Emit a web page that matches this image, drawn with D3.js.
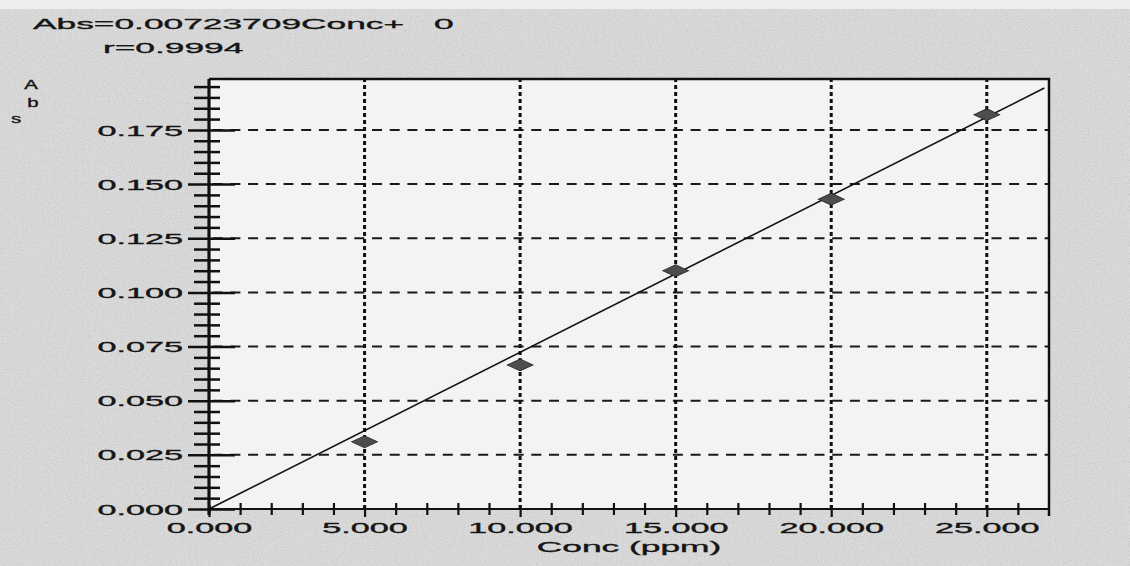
<!DOCTYPE html>
<html>
<head>
<meta charset="utf-8">
<script src="https://cdn.jsdelivr.net/npm/d3@7"></script>
<style>
  html, body { margin: 0; padding: 0; background: #d5d5d5; }
  svg { display: block; }
  text { font-family: "Liberation Sans", Arial, sans-serif; fill: #151515; stroke: #151515; stroke-width: 0.35; }
</style>
</head>
<body>
<script>
// calibration data
var conc = [5, 10, 15, 20, 25];
var absVals = [0.031, 0.0665, 0.110, 0.143, 0.182];

var xTicks = [0, 5, 10, 15, 20, 25];
var xTickLabels = ["0.000", "5.000", "10.000", "15.000", "20.000", "25.000"];
var yTicks = [0, 0.025, 0.05, 0.075, 0.1, 0.125, 0.15, 0.175];
var yTickLabels = ["0.000", "0.025", "0.050", "0.075", "0.100", "0.125", "0.150", "0.175"];

var slope = 0.00723709, intercept = 0;
var fitRange = [0, 26.85];
var equation = "Abs=0.00723709Conc+", eqConst = "0", rText = "r=0.9994";
var xTitle = "Conc (ppm)", yTitle = ["A", "b", "s"];

var WIDTH = 1130, HEIGHT = 566;
var SX = 2.28; // printout font is very wide
// (window.top is read-only, so no "top" here)
var plotL = 209, plotR = 1049, plotT = 79, plotB = 509;

var svg = d3.select("body").append("svg")
    .attr("width", WIDTH)
    .attr("height", HEIGHT);

// paper grain
var defs = svg.append("defs");
var grain = defs.append("filter").attr("id", "grain")
    .attr("x", 0).attr("y", 0).attr("width", "100%").attr("height", "100%");
grain.append("feTurbulence").attr("type", "fractalNoise")
    .attr("baseFrequency", 0.85).attr("numOctaves", 2).attr("seed", 3).attr("result", "n");
grain.append("feColorMatrix").attr("in", "n").attr("type", "matrix")
    .attr("values", "0 0 0 0 0.4  0 0 0 0 0.4  0 0 0 0 0.4  0 0 0 -1.8 1.0")
    .attr("result", "dots");
grain.append("feComposite").attr("in", "dots").attr("in2", "SourceGraphic").attr("operator", "in");

svg.append("rect").attr("width", WIDTH).attr("height", HEIGHT).attr("fill", "#dadada");
svg.append("rect").attr("width", WIDTH).attr("height", HEIGHT).attr("fill", "#dadada")
    .attr("filter", "url(#grain)").attr("opacity", 0.5);
svg.append("rect").attr("width", WIDTH).attr("height", 9).attr("fill", "#ededed");

var x = d3.scaleLinear().domain([0, 27]).range([plotL, plotR]);
var y = d3.scaleLinear().domain([0, 0.1985]).range([plotB, plotT]);

// plot area
svg.append("rect")
    .attr("x", plotL).attr("y", plotT)
    .attr("width", plotR - plotL).attr("height", plotB - plotT)
    .attr("fill", "#f3f3f3");

// grid
svg.append("g").selectAll("line")
  .data(yTicks.slice(1))
  .join("line")
    .attr("x1", plotL).attr("x2", plotR)
    .attr("y1", function(d){ return y(d); }).attr("y2", function(d){ return y(d); })
    .attr("stroke", "#1a1a1a").attr("stroke-width", 2)
    .attr("stroke-dasharray", "10,7.7").attr("stroke-dashoffset", 14);

svg.append("g").selectAll("line")
  .data(xTicks.slice(1))
  .join("line")
    .attr("x1", function(d){ return x(d); }).attr("x2", function(d){ return x(d); })
    .attr("y1", plotB).attr("y2", plotT)
    .attr("stroke", "#111").attr("stroke-width", 3)
    .attr("stroke-dasharray", "4,3");

// top + right border
svg.append("path")
    .attr("d", "M" + plotL + "," + plotT + "H" + plotR + "V" + (plotB + 7))
    .attr("fill", "none").attr("stroke", "#111").attr("stroke-width", 2.5);

// fit line
var fit = d3.line()
    .x(function(d){ return x(d); })
    .y(function(d){ return y(slope * d + intercept); });
svg.append("path")
    .datum(fitRange)
    .attr("d", fit)
    .attr("fill", "none").attr("stroke", "#111").attr("stroke-width", 1.6);

// points (flattened diamonds)
var sym = d3.symbol().type(d3.symbolSquare).size(338);
svg.append("g").selectAll("path")
  .data(conc)
  .join("path")
    .attr("d", sym)
    .attr("transform", function(d, i){
      return "translate(" + x(d) + "," + y(absVals[i]) + ") scale(1,0.46) rotate(45)";
    })
    .attr("fill", "#4d4d4d").attr("stroke", "#222").attr("stroke-width", 1.2);

// y axis
var yMinor = d3.range(0, 0.196, 0.005).filter(function(v){
  return Math.abs(v / 0.025 - Math.round(v / 0.025)) > 1e-6;
});
var yMinorAxis = svg.append("g")
    .attr("transform", "translate(" + plotL + ",0)")
    .call(d3.axisLeft(y).tickValues(yMinor).tickSize(0).tickFormat(""));
yMinorAxis.select(".domain").remove();
yMinorAxis.selectAll(".tick line").attr("x1", -15).attr("x2", 11)
    .attr("stroke", "#111").attr("stroke-width", 2.5);

var yAxis = svg.append("g")
    .attr("transform", "translate(" + plotL + ",0)")
    .call(d3.axisLeft(y).tickValues(yTicks).tickSize(0)
      .tickFormat(function(d, i){ return yTickLabels[i]; }));
yAxis.select(".domain").remove();
yAxis.selectAll(".tick line").attr("x1", -21).attr("x2", 26)
    .attr("stroke", "#111").attr("stroke-width", 2.5);
yAxis.selectAll(".tick text")
    .attr("x", -26 / SX).attr("dy", "0.34em")
    .attr("transform", "scale(" + SX + ",1)")
    .style("font-size", "15px");

// x axis
var xMinor = d3.range(1, 27, 1).filter(function(v){ return v % 5 !== 0; });
var xMinorAxis = svg.append("g")
    .attr("transform", "translate(0," + plotB + ")")
    .call(d3.axisBottom(x).tickValues(xMinor).tickSize(0).tickFormat(""));
xMinorAxis.select(".domain").remove();
xMinorAxis.selectAll(".tick line").attr("y1", -6).attr("y2", 6)
    .attr("stroke", "#111").attr("stroke-width", 2.2);

var xAxis = svg.append("g")
    .attr("transform", "translate(0," + plotB + ")")
    .call(d3.axisBottom(x).tickValues(xTicks).tickSize(0)
      .tickFormat(function(d, i){ return xTickLabels[i]; }));
xAxis.select(".domain").remove();
xAxis.selectAll(".tick line").attr("y1", -4).attr("y2", 8)
    .attr("stroke", "#111").attr("stroke-width", 2.2);
xAxis.selectAll(".tick text")
    .attr("y", 24).attr("dy", 0)
    .attr("transform", "scale(" + SX + ",1)")
    .each(function(){
      var g = d3.select(this.parentNode);
      var tx = +/translate\(([-\d.]+)/.exec(g.attr("transform"))[1];
      // move the group origin to 0 so the stretch stays centred on the tick
      g.attr("transform", "translate(0,0)");
      g.select("line").attr("x1", tx).attr("x2", tx);
      d3.select(this).attr("x", tx / SX);
    })
    .style("font-size", "15px");

// axis lines
svg.append("line")
    .attr("x1", plotL).attr("x2", plotL).attr("y1", plotT).attr("y2", plotB + 6)
    .attr("stroke", "#111").attr("stroke-width", 3.2);
svg.append("line")
    .attr("x1", plotL).attr("x2", plotR).attr("y1", plotB).attr("y2", plotB)
    .attr("stroke", "#111").attr("stroke-width", 2.2);

// texts
function wide(sel, px, py, size, sx) {
  return sel.attr("x", px / sx).attr("y", py)
      .attr("transform", "scale(" + sx + ",1)")
      .style("font-size", size + "px");
}
wide(svg.append("text").text(equation), 33, 29, 15.5, SX);
wide(svg.append("text").text(eqConst), 434, 29, 15.5, SX);
wide(svg.append("text").text(rText), 103, 53, 15.5, SX);
wide(svg.append("text").text(xTitle).attr("text-anchor", "middle"), (plotL + plotR) / 2, 552, 15.5, SX);

var yTitlePos = [[31, 89], [33, 107], [16, 123]];
yTitle.forEach(function(ch, i){
  wide(svg.append("text").text(ch).attr("text-anchor", "middle"),
    yTitlePos[i][0], yTitlePos[i][1], 12, 1.7);
});
</script>
</body>
</html>
